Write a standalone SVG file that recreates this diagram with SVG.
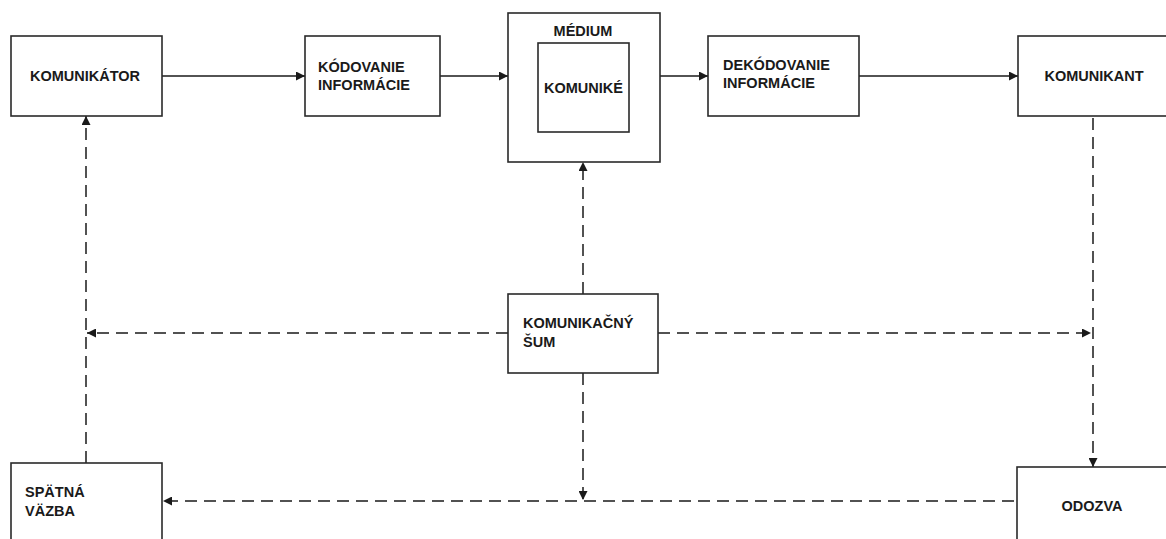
<svg xmlns="http://www.w3.org/2000/svg" width="1166" height="539" viewBox="0 0 1166 539">
<defs>
<marker id="arr" viewBox="0 0 10 10" refX="10" refY="5" markerWidth="9" markerHeight="9" markerUnits="userSpaceOnUse" orient="auto">
<path d="M0,0 L10,5 L0,10 z" fill="#1a1a1a"/>
</marker>
</defs>
<style>
.box{fill:#fff;stroke:#2a2a2a;stroke-width:1.6}
.t{font-family:"Liberation Sans",Arial,sans-serif;font-weight:bold;font-size:14.5px;fill:#1a1a1a}
.c{text-anchor:middle}
.s{fill:none;stroke:#1a1a1a;stroke-width:1.5}
.d{fill:none;stroke:#1a1a1a;stroke-width:1.5;stroke-dasharray:12 7}
</style>
<rect width="1166" height="539" fill="#fff"/>
<g id="connectors">
<line class="s" x1="162" y1="76" x2="305" y2="76" marker-end="url(#arr)"/>
<line class="s" x1="440" y1="76" x2="508" y2="76" marker-end="url(#arr)"/>
<line class="s" x1="660" y1="76" x2="708" y2="76" marker-end="url(#arr)"/>
<line class="s" x1="859" y1="76" x2="1018" y2="76" marker-end="url(#arr)"/>
<line class="d" x1="86" y1="463" x2="86" y2="116" marker-end="url(#arr)"/>
<line class="d" x1="583" y1="294" x2="583" y2="162" marker-end="url(#arr)"/>
<line class="d" x1="508" y1="333" x2="87" y2="333" marker-end="url(#arr)"/>
<line class="d" x1="658" y1="333" x2="1091" y2="333" marker-end="url(#arr)"/>
<line class="d" x1="583" y1="373" x2="583" y2="500" marker-end="url(#arr)"/>
<line class="d" x1="1093" y1="118" x2="1093" y2="467" marker-end="url(#arr)"/>
<line class="d" x1="1014" y1="501" x2="163" y2="501" marker-end="url(#arr)"/>
</g>
<g id="komunikator">
<rect class="box" x="11" y="36" width="151" height="80"/>
<text class="t c" x="85" y="81">KOMUNIKÁTOR</text>
</g>
<g id="kodovanie">
<rect class="box" x="305" y="36" width="135" height="80"/>
<text class="t" x="318" y="72">KÓDOVANIE</text>
<text class="t" x="318" y="90">INFORMÁCIE</text>
</g>
<g id="medium">
<rect class="box" x="508" y="13" width="152" height="149"/>
<text class="t c" x="583" y="36">MÉDIUM</text>
</g>
<g id="komunike">
<rect class="box" x="538" y="43" width="91" height="89"/>
<text class="t c" x="583.5" y="93">KOMUNIKÉ</text>
</g>
<g id="dekodovanie">
<rect class="box" x="708" y="36" width="151" height="80"/>
<text class="t" x="723" y="70">DEKÓDOVANIE</text>
<text class="t" x="723" y="88">INFORMÁCIE</text>
</g>
<g id="komunikant">
<rect class="box" x="1018" y="36" width="152" height="80"/>
<text class="t c" x="1094" y="81">KOMUNIKANT</text>
</g>
<g id="sum">
<rect class="box" x="508" y="294" width="150" height="79"/>
<text class="t" x="523" y="328">KOMUNIKAČNÝ</text>
<text class="t" x="523" y="347">ŠUM</text>
</g>
<g id="spatna-vazba">
<rect class="box" x="11" y="463" width="151" height="80"/>
<text class="t" x="25" y="497">SPÄTNÁ</text>
<text class="t" x="25" y="516">VÄZBA</text>
</g>
<g id="odozva">
<rect class="box" x="1017" y="467" width="153" height="80"/>
<text class="t c" x="1092" y="511">ODOZVA</text>
</g>
</svg>
